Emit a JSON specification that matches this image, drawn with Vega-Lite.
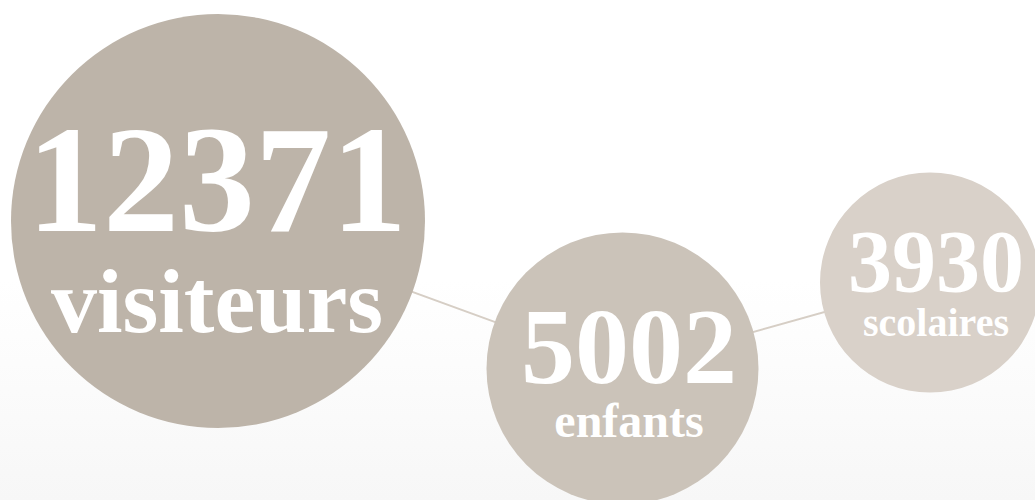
{
  "$schema": "https://vega.github.io/schema/vega-lite/v6.json",
  "width": 1035,
  "height": 500,
  "autosize": {"type": "none"},
  "padding": 0,
  "background": "#ffffff",
  "config": {
    "view": {
      "stroke": null,
      "fill": {
        "gradient": "linear",
        "x1": 0, "y1": 0, "x2": 0, "y2": 1,
        "stops": [
          {"offset": 0, "color": "#ffffff"},
          {"offset": 0.56, "color": "#ffffff"},
          {"offset": 1, "color": "#f7f7f7"}
        ]
      }
    }
  },
  "data": {
    "values": [
      {"name": "visiteurs", "value": 12371, "x": 218, "y": 221, "tx": 217, "ny": 231, "wy": 332},
      {"name": "enfants", "value": 5002, "x": 622.5, "y": 368.5, "tx": 629, "ny": 383, "wy": 437},
      {"name": "scolaires", "value": 3930, "x": 930, "y": 282.5, "tx": 936, "ny": 291, "wy": 336}
    ]
  },
  "resolve": {"scale": {"size": "independent"}},
  "layer": [
    {
      "mark": {"type": "line", "color": "#d6cec5", "strokeWidth": 2},
      "encoding": {
        "x": {"field": "x", "type": "quantitative", "scale": {"domain": [0, 1035], "nice": false, "zero": false}, "axis": null},
        "y": {"field": "y", "type": "quantitative", "scale": {"domain": [0, 500], "nice": false, "zero": false, "reverse": true}, "axis": null},
        "order": {"field": "x", "type": "quantitative"}
      }
    },
    {
      "mark": {"type": "point", "shape": "circle", "filled": true, "opacity": 1, "strokeWidth": 0},
      "encoding": {
        "x": {"field": "x", "type": "quantitative", "scale": {"domain": [0, 1035], "nice": false, "zero": false}, "axis": null},
        "y": {"field": "y", "type": "quantitative", "scale": {"domain": [0, 500], "nice": false, "zero": false, "reverse": true}, "axis": null},
        "size": {"field": "value", "type": "quantitative", "scale": {"type": "linear", "domain": [3930, 5002, 12371], "range": [48400, 73984, 171396], "zero": false, "nice": false}, "legend": null},
        "color": {"field": "name", "type": "nominal", "scale": {"domain": ["visiteurs", "enfants", "scolaires"], "range": ["#bdb4a9", "#cbc3b9", "#d9d1c9"]}, "legend": null}
      }
    },
    {
      "mark": {"type": "text", "font": "Liberation Serif", "fontWeight": "bold", "color": "#ffffff", "align": "center", "baseline": "alphabetic"},
      "encoding": {
        "x": {"field": "tx", "type": "quantitative", "scale": {"domain": [0, 1035], "nice": false, "zero": false}, "axis": null},
        "y": {"field": "ny", "type": "quantitative", "scale": {"domain": [0, 500], "nice": false, "zero": false, "reverse": true}, "axis": null},
        "text": {"field": "value", "type": "quantitative", "format": "d"},
        "size": {"field": "value", "type": "quantitative", "scale": {"type": "linear", "domain": [3930, 5002, 12371], "range": [88, 108, 152], "zero": false, "nice": false}, "legend": null}
      }
    },
    {
      "mark": {"type": "text", "font": "Liberation Serif", "fontWeight": "bold", "color": "#ffffff", "align": "center", "baseline": "alphabetic"},
      "encoding": {
        "x": {"field": "tx", "type": "quantitative", "scale": {"domain": [0, 1035], "nice": false, "zero": false}, "axis": null},
        "y": {"field": "wy", "type": "quantitative", "scale": {"domain": [0, 500], "nice": false, "zero": false, "reverse": true}, "axis": null},
        "text": {"field": "name", "type": "nominal"},
        "size": {"field": "value", "type": "quantitative", "scale": {"type": "linear", "domain": [3930, 5002, 12371], "range": [40, 48, 92], "zero": false, "nice": false}, "legend": null}
      }
    }
  ]
}
